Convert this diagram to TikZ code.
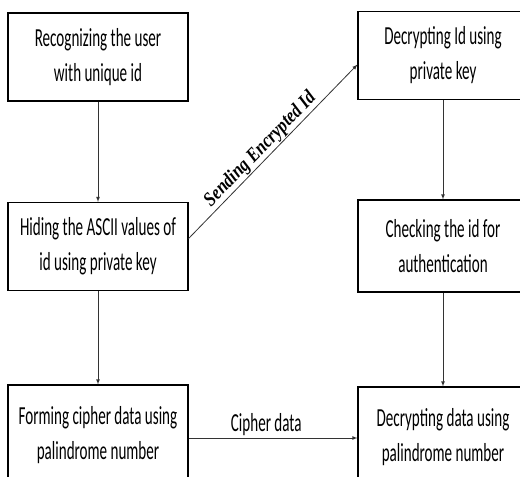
\documentclass[tikz,border=0pt]{standalone}
\usepackage{fontspec}
\newfontfamily\boxfont[FakeStretch=0.58]{Carlito}
\newfontfamily\sendfont[FakeStretch=0.84]{Liberation Serif}
\usetikzlibrary{positioning}

\begin{document}
\begin{tikzpicture}[x=1pt, y=-1pt, >=latex,
	proc/.style={draw, line width=1.1pt, minimum width=180pt, minimum height=88pt,
	inner sep=0pt, align=center, font=\boxfont\fontsize{26}{35}\selectfont},
	flow/.style={->, line width=0.8pt, draw=black!80}]
\useasboundingbox (0,0) rectangle (520,477);
\clip (0,0) rectangle (520,477);
\node[proc] (1) at (98, 57) {Recognizing the user\\with unique id};
\node[proc] (2) at (98, 246.5) {Hiding the ASCII values of\\id using private key};
\node[proc, minimum height=100pt] (3) at (98, 435) {Forming cipher data using\\palindrome number};
\node[proc, minimum width=170pt] (4) at (443, 55.5) {Decrypting Id using\\private key};
\node[proc, minimum width=170pt, minimum height=92pt] (5) at (443, 246) {Checking the id for\\authentication};
\node[proc, minimum width=170pt, minimum height=100pt] (6) at (443, 437) {Decrypting data using\\palindrome number};
\draw[flow] (1) to (2);
\draw[flow] (2) to (3);
\draw[flow] (4) to (5);
\draw[flow] (5) to (6);
\draw[flow] (2.5) to node[pos=0.47, sloped, above, inner sep=1pt,
	font=\sendfont\bfseries\itshape\fontsize{20}{22}\selectfont] {Sending Encrypted Id} (4.186);
\draw[flow] (3.east |- 0,438) to node[pos=0.46, above, inner sep=2pt,
	font=\boxfont\fontsize{26}{30}\selectfont] {Cipher data} (6.west |- 0,438);
\end{tikzpicture}
\end{document}
